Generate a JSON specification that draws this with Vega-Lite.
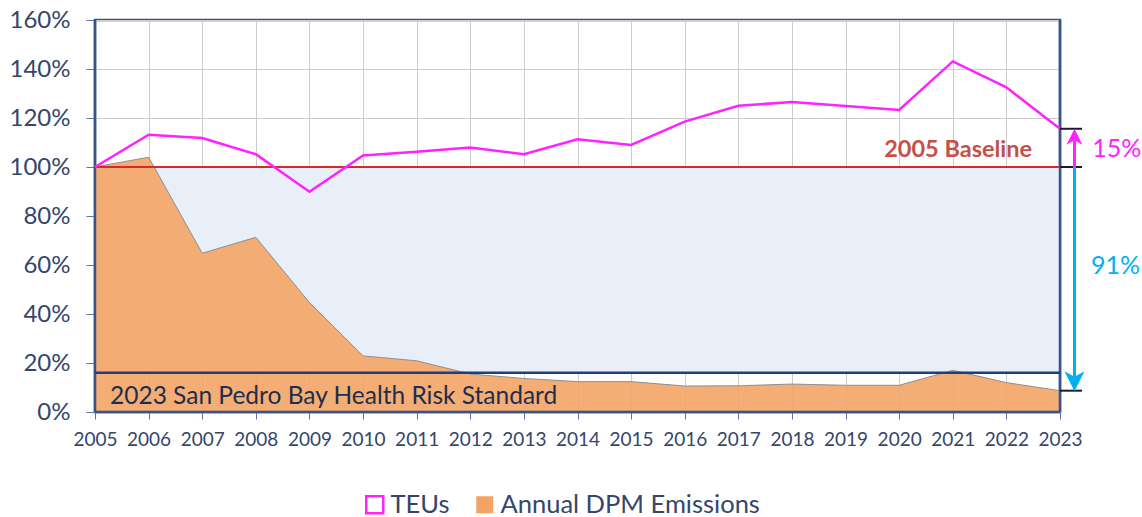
{
  "$schema": "https://vega.github.io/schema/vega-lite/v6.json",
  "width": 965,
  "height": 392,
  "autosize": "none",
  "padding": {"left": 95, "top": 20, "right": 82, "bottom": 105},
  "background": "white",
  "config": {
    "view": {"stroke": "#36538c", "strokeWidth": 2.5},
    "font": "Lato",
    "axis": {"title": null, "grid": true, "gridColor": "#cccccc", "gridWidth": 1, "domain": false, "tickColor": "#5b75a8", "labelFont": "Lato", "labelColor": "#34466a", "labelOverlap": false, "labelFlush": false},
    "axisX": {"labelFontSize": 19, "tickSize": 7, "labelPadding": 11},
    "axisY": {"labelFontSize": 24, "tickSize": 9, "labelPadding": 16},
    "legend": {"title": null, "orient": "none", "direction": "horizontal", "symbolType": "square", "symbolSize": 289, "symbolOpacity": 1, "labelFont": "Lato", "labelFontSize": 25.5, "labelColor": "#34466a", "labelOffset": 3, "labelLimit": 400}
  },
  "datasets": {
    "main": [
      {"year": 2005, "teu": 100, "dpm": 100},
      {"year": 2006, "teu": 113.2, "dpm": 104.0},
      {"year": 2007, "teu": 111.8, "dpm": 64.8},
      {"year": 2008, "teu": 105.2, "dpm": 71.3},
      {"year": 2009, "teu": 89.9, "dpm": 44.7},
      {"year": 2010, "teu": 104.7, "dpm": 22.9},
      {"year": 2011, "teu": 106.2, "dpm": 20.9},
      {"year": 2012, "teu": 108.0, "dpm": 15.5},
      {"year": 2013, "teu": 105.2, "dpm": 13.7},
      {"year": 2014, "teu": 111.3, "dpm": 12.4},
      {"year": 2015, "teu": 109.0, "dpm": 12.4},
      {"year": 2016, "teu": 118.5, "dpm": 10.6},
      {"year": 2017, "teu": 125.0, "dpm": 10.7},
      {"year": 2018, "teu": 126.5, "dpm": 11.4},
      {"year": 2019, "teu": 124.9, "dpm": 10.9},
      {"year": 2020, "teu": 123.3, "dpm": 10.9},
      {"year": 2021, "teu": 143.1, "dpm": 17.0},
      {"year": 2022, "teu": 132.5, "dpm": 12.0},
      {"year": 2023, "teu": 115.6, "dpm": 8.7}
    ],
    "one": [{}]
  },
  "layer": [
    {
      "data": {"name": "one"},
      "mark": {"type": "rect", "fill": "#e8eff8"},
      "encoding": {
        "x": {"datum": 2005, "type": "quantitative", "scale": {"domain": [2005, 2023], "nice": false, "zero": false}, "axis": {"values": [2005,2006,2007,2008,2009,2010,2011,2012,2013,2014,2015,2016,2017,2018,2019,2020,2021,2022,2023], "format": "d"}},
        "x2": {"datum": 2023},
        "y": {"datum": 16, "type": "quantitative", "scale": {"domain": [0, 160], "nice": false}, "axis": {"values": [0,20,40,60,80,100,120,140,160], "labelExpr": "datum.value + '%'"}},
        "y2": {"datum": 100}
      }
    },
    {
      "data": {"name": "main"},
      "mark": {"type": "area", "opacity": 0.9},
      "encoding": {
        "x": {"field": "year", "type": "quantitative", "scale": {"domain": [2005, 2023]}},
        "y": {"field": "dpm", "type": "quantitative", "scale": {"domain": [0, 160]}},
        "fill": {
          "datum": "Annual DPM Emissions",
          "scale": {"domain": ["Annual DPM Emissions"], "range": ["#f3a465"]},
          "legend": {"legendX": 377, "legendY": 472}
        }
      }
    },
    {
      "data": {"name": "main"},
      "mark": {"type": "line", "color": "#8f8f8f", "strokeWidth": 1},
      "encoding": {
        "x": {"field": "year", "type": "quantitative", "scale": {"domain": [2005, 2023]}},
        "y": {"field": "dpm", "type": "quantitative", "scale": {"domain": [0, 160]}}
      }
    },
    {
      "data": {"name": "one"},
      "mark": {"type": "rule", "color": "#36538c", "strokeWidth": 2.5},
      "encoding": {"x": {"datum": 2005}, "x2": {"datum": 2023}, "y": {"datum": 0}}
    },
    {
      "data": {"name": "one"},
      "mark": {"type": "rule", "color": "#36538c", "strokeWidth": 2.5},
      "encoding": {"x": {"datum": 2005}, "y": {"datum": 0}, "y2": {"datum": 160}}
    },
    {
      "data": {"name": "one"},
      "mark": {"type": "rule", "color": "#36538c", "strokeWidth": 2.5},
      "encoding": {"x": {"datum": 2023}, "y": {"datum": 0}, "y2": {"datum": 160}}
    },
    {
      "data": {"name": "one"},
      "mark": {"type": "rule", "color": "#d42a2a", "strokeWidth": 2},
      "encoding": {
        "x": {"datum": 2005}, "x2": {"datum": 2023}, "y": {"datum": 100}
      }
    },
    {
      "data": {"name": "one"},
      "mark": {"type": "rule", "color": "#1f3f7a", "strokeWidth": 2.5},
      "encoding": {
        "x": {"datum": 2005}, "x2": {"datum": 2023}, "y": {"datum": 16}
      }
    },
    {
      "data": {"name": "main"},
      "mark": {"type": "line", "strokeWidth": 2.5},
      "encoding": {
        "x": {"field": "year", "type": "quantitative", "scale": {"domain": [2005, 2023]}},
        "y": {"field": "teu", "type": "quantitative", "scale": {"domain": [0, 160]}},
        "stroke": {
          "datum": "TEUs",
          "scale": {"domain": ["TEUs"], "range": ["#ff22ff"]},
          "legend": {"legendX": 267, "legendY": 472, "symbolStrokeWidth": 2.5, "symbolFillColor": "#ffffff"}
        }
      }
    },
    {
      "data": {"name": "one"},
      "mark": {"type": "text", "text": "2005 Baseline", "font": "Lato", "fontSize": 23.5, "fontWeight": "bold", "fill": "#c5504a", "align": "right", "baseline": "alphabetic"},
      "encoding": {"x": {"datum": 2022.48}, "y": {"datum": 104.2}}
    },
    {
      "data": {"name": "one"},
      "mark": {"type": "text", "text": "2023 San Pedro Bay Health Risk Standard", "font": "Lato", "fontSize": 24.5, "fill": "#1e2e4e", "align": "left", "baseline": "alphabetic"},
      "encoding": {"x": {"datum": 2005.28}, "y": {"datum": 3.3}}
    },
    {
      "data": {"name": "one"},
      "mark": {"type": "text", "text": "15%", "font": "Lato", "fontSize": 25, "fill": "#ff22ff", "align": "left", "baseline": "alphabetic"},
      "encoding": {"x": {"datum": 2023.6}, "y": {"datum": 104.2}}
    },
    {
      "data": {"name": "one"},
      "mark": {"type": "text", "text": "91%", "font": "Lato", "fontSize": 25, "fill": "#00b0f0", "align": "left", "baseline": "alphabetic"},
      "encoding": {"x": {"datum": 2023.58}, "y": {"datum": 56.3}}
    },
    {
      "data": {"name": "one"},
      "mark": {"type": "rule", "color": "#1a1a2e", "strokeWidth": 2},
      "encoding": {"x": {"datum": 2023}, "x2": {"datum": 2023.41}, "y": {"datum": 115.6}}
    },
    {
      "data": {"name": "one"},
      "mark": {"type": "rule", "color": "#1a1a2e", "strokeWidth": 2},
      "encoding": {"x": {"datum": 2023}, "x2": {"datum": 2023.41}, "y": {"datum": 100}}
    },
    {
      "data": {"name": "one"},
      "mark": {"type": "rule", "color": "#1a1a2e", "strokeWidth": 2},
      "encoding": {"x": {"datum": 2023}, "x2": {"datum": 2023.41}, "y": {"datum": 8.7}}
    },
    {
      "data": {"name": "one"},
      "mark": {"type": "rule", "color": "#ff22ff", "strokeWidth": 3},
      "encoding": {"x": {"datum": 2023.27}, "y": {"datum": 100}, "y2": {"datum": 112}}
    },
    {
      "data": {"name": "one"},
      "mark": {"type": "point", "shape": "M0,-1L0.8,0.6L0,0.15L-0.8,0.6Z", "filled": true, "opacity": 1, "color": "#ff22ff", "size": 400},
      "encoding": {"x": {"datum": 2023.27}, "y": {"datum": 111.5}}
    },
    {
      "data": {"name": "one"},
      "mark": {"type": "rule", "color": "#00b0f0", "strokeWidth": 3},
      "encoding": {"x": {"datum": 2023.27}, "y": {"datum": 100}, "y2": {"datum": 12}}
    },
    {
      "data": {"name": "one"},
      "mark": {"type": "point", "shape": "M0,1L0.8,-0.6L0,-0.15L-0.8,-0.6Z", "filled": true, "opacity": 1, "color": "#00b0f0", "size": 625},
      "encoding": {"x": {"datum": 2023.27}, "y": {"datum": 13.6}}
    }
  ]
}
